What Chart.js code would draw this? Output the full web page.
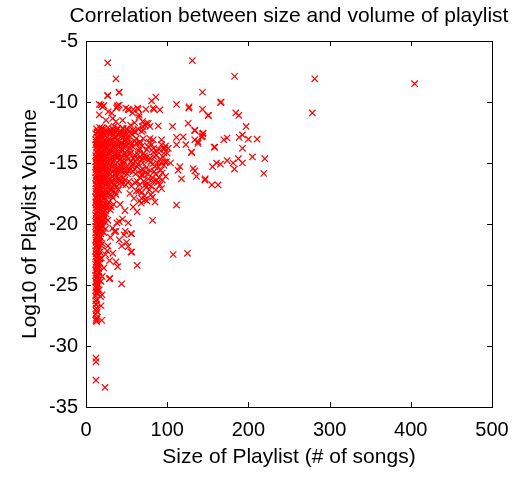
<!DOCTYPE html>
<html>
<head>
<meta charset="utf-8">
<script src="https://cdn.jsdelivr.net/npm/chart.js@4/dist/chart.umd.min.js"></script>
<style>
html,body{margin:0;padding:0;background:#fff;}
#wrap{width:515px;height:477px;}
</style>
</head>
<body>
<div id="wrap"><canvas id="c" width="515" height="477"></canvas></div>
<script>
const chartTitle = 'Correlation between size and volume of playlist';
const xAxisTitle = 'Size of Playlist (# of songs)';
const yAxisTitle = 'Log10 of Playlist Volume';
const xTicks = [0, 100, 200, 300, 400, 500];
const yTicks = [-35, -30, -25, -20, -15, -10, -5];

// isolated playlists (size, log10 volume)
const outlierPlaylists = [
[26.7,-6.8],[131,-6.6],[36.9,-8.1],[183,-7.9],[281.7,-8.1],[404.7,-8.5],[40.6,-9.2],[26.7,-9.45],[143.5,-9.2],[86,-9.6],
[80.8,-9.9],[165.6,-10.05],[166.5,-10.0],[16.4,-10.2],[22,-10.3],[38.5,-10.4],[37.5,-10.5],[27.4,-10.8],[31.6,-10.9],[52,-10.6],
[58.2,-10.6],[64.3,-10.6],[73.8,-10.6],[83.6,-10.6],[91,-10.65],[82.8,-10.5],[111.5,-10.2],[126.7,-10.5],[127,-10.4],[143.5,-10.6],
[150.4,-11.1],[150.9,-11.1],[184.5,-10.9],[188.2,-11.1],[278.8,-10.9],[65.2,-11.25],[72.6,-11.9],[76.7,-11.75],[74.6,-11.75],[89,-11.95],
[106.6,-12.0],[125.8,-11.75],[134,-12.3],[134,-12.35],[144.3,-12.55],[142.3,-12.85],[143.5,-12.8],[143.5,-12.6],[138,-13.25],[138,-13.4],
[134,-13.1],[111.5,-12.9],[119.7,-12.85],[123,-13.5],[111.5,-13.5],[130,-14.1],[130,-14.15],[158.7,-13.7],[157.8,-13.7],[101.3,-13.8],
[197.2,-12.0],[169.7,-13.1],[173.8,-12.95],[188.6,-12.9],[192.7,-12.7],[200,-13.05],[210.7,-13.05],[192.7,-13.8],[205,-14.5],[220.2,-14.65],
[219,-15.85],[155.8,-15.3],[160.7,-15.0],[165.6,-15.1],[173.8,-14.8],[181.2,-15.0],[187.7,-14.65],[192.7,-15.0],[182.8,-15.5],[146.8,-16.3],
[155,-16.8],[162.7,-16.8],[113.5,-15.6],[115.6,-15.3],[132,-15.45],[134,-15.65],[117.6,-16.3],[136,-16.1],[146.4,-16.4],[111.5,-18.45],
[82,-19.7],[78.7,-13],[68.5,-12.4],[66.4,-13.25],[93,-13.1],[95,-13.8],[78.7,-12],[70.5,-12.3],[70.5,-13],[66.4,-13.4],
[76.6,-13.65],[82.8,-14.1],[86.9,-14.35],[82.8,-13.1],[93,-13.5],[97.2,-13.8],[95,-14.5],[97,-14.9],[91,-16.8],[93,-17.1],
[72.6,-18],[68.5,-17.9],[56.2,-20.8],[56.2,-22.3],[107.4,-22.5],[125,-22.4],[63.1,-23.4],[41,-19.8],[48.3,-20.6],[55.4,-20.8],
[32.8,-20.35],[36.9,-20.6],[41,-21.3],[50,-21.5],[52,-21.85],[55.4,-22.3],[36.9,-23.1],[39,-23.5],[28.7,-24.5],[43.9,-24.9],
[18.5,-24.7],[16.4,-25.4],[19.7,-25.8],[29.5,-24.45],[13.2,-25.7],[18,-25.95],[15.1,-25.4],[12.3,-26.55],[18.5,-26.7],[12.3,-27.9],
[19.3,-27.9],[13.1,-27.7],[13.1,-28],[12.3,-31.0],[12.3,-31.3],[12.3,-32.8],[23.4,-33.4]
];

// scattered playlists around the main cluster
const fringePlaylists = [
[26.7,-9.5],[41,-9.2],[18.5,-10.25],[20.5,-10.4],[39,-10.3],[41,-10.25],[49,-10.5],[63.5,-10.5],[65.5,-11.05],[53,-10.65],
[57.4,-10.9],[24.6,-11.5],[32.8,-11.35],[36.9,-11.6],[45.1,-11.5],[16.4,-11.05],[59.4,-12.4],[69.7,-11.6],[69.7,-12.0],[45.1,-12.15],
[51.3,-12.3],[34.8,-12.0],[41,-12.55],[49.2,-12.7],[30.8,-12.4],
[64,-15.1],[67,-16.2],[70,-15.5],[73,-16.8],[76,-15.9],[79,-14.6],[84,-15.7],[87,-16.4],[62,-17.3],[66,-18.1],
[58,-18.6],[54,-17.5],[48,-18.9],[45,-19.6],[42,-18.4],[38,-19.9],[35,-20.6],[30,-21.1],[27,-21.8],[24,-22.5],
[22,-23.6],[20,-24.3],[60,-16.6],[56,-16.9],[75,-13.9],[81,-13.5],[88,-15.0],[92,-15.6],[100,-14.2],[104,-15.0],
[98,-16.1],[80,-17.6],[85,-18.2],[63,-19.0],[52,-19.9],[47,-20.9],[44,-21.8],[33,-22.4],[29,-23.0],[26,-22.2],
[67,-14.5],[70,-15.0],[72,-14.6],[74,-15.4],[77,-14.8],[79,-15.6],[82,-15.1],[84,-14.5],[86,-15.9],[89,-15.3],
[91,-14.7],[94,-15.8],[96,-15.2],[99,-14.9],[68,-16.0],[71,-16.5],[74,-17.0],[77,-16.3],[80,-16.9],[83,-16.5],
[86,-17.2],[69,-17.4],[72,-17.7],[66,-16.8],[90,-16.2],[75,-18.1],[68,-18.3],
[62,-13.0],[65,-14.0],[67,-15.6],[69,-13.6],[71,-14.2],[73,-15.8],[75,-14.5],[76,-16.7],[78,-13.3],[80,-14.9],
[82,-16.2],[83,-13.8],[85,-15.3],[87,-14.0],[88,-16.6],[90,-13.9],[92,-15.0],[94,-16.4],[96,-14.2],[98,-13.6],
[61,-15.9],[63,-16.5],[65,-17.3],[70,-16.0],[78,-17.2],[82,-17.8],[59,-17.9],[57,-15.1],[64,-12.2],[60,-11.7],[55,-11.9]
];

// dense core of small playlists
const corePlaylists = [
[12,-12.6],[13,-12.2],[14,-12.9],[15,-12.4],[16,-12.7],[17,-12.1],[18,-12.8],[19,-12.3],[20,-12.6],[21,-12.9],
[22,-12.2],[23,-12.7],[25,-12.4],[26,-12.9],[27,-12.1],[29,-12.6],[30,-12.3],[32,-12.8],[33,-12.2],[35,-12.6],
[37,-12.9],[38,-12.3],[40,-12.7],[42,-12.4],[44,-12.8],[46,-12.2],[48,-12.6],[51,-12.9],[54,-12.4],[57,-12.7],[61,-12.5],
[12,-13.5],[12,-13.1],[13,-13.8],[14,-13.3],[15,-13.6],[16,-13.1],[17,-13.9],[18,-13.4],[19,-13.7],[20,-13.2],
[21,-13.5],[22,-13.9],[23,-13.1],[24,-13.6],[25,-13.3],[26,-13.8],[28,-13.2],[29,-13.6],[30,-13.9],[31,-13.4],
[33,-13.1],[34,-13.7],[36,-13.3],[37,-13.9],[39,-13.5],[41,-13.2],[42,-13.8],[44,-13.4],[46,-13.7],[48,-13.2],
[50,-13.6],[52,-13.9],[55,-13.3],[58,-13.7],[62,-13.4],[66,-13.8],
[12,-14.4],[12,-14.9],[13,-14.1],[14,-14.6],[15,-14.3],[16,-14.8],[17,-14.2],[18,-14.5],[19,-14.9],[20,-14.1],
[21,-14.6],[22,-14.3],[23,-14.8],[24,-14.2],[26,-14.5],[27,-14.9],[28,-14.3],[30,-14.7],[31,-14.1],[33,-14.5],
[34,-14.9],[36,-14.2],[38,-14.6],[39,-14.3],[41,-14.8],[43,-14.1],[45,-14.5],[47,-14.9],[49,-14.3],[52,-14.7],
[55,-14.2],[58,-14.6],[61,-14.9],[64,-14.3],[68,-14.7],[72,-14.4],
[12,-15.3],[12,-15.8],[13,-15.1],[14,-15.6],[15,-15.2],[16,-15.9],[17,-15.4],[18,-15.7],[19,-15.1],[20,-15.5],
[21,-15.9],[22,-15.2],[23,-15.6],[25,-15.3],[26,-15.8],[27,-15.1],[29,-15.5],[30,-15.9],[32,-15.3],[33,-15.7],
[35,-15.2],[37,-15.6],[39,-15.9],[41,-15.4],[43,-15.7],[46,-15.2],[48,-15.6],[51,-15.9],[54,-15.4],[58,-15.7],[63,-15.3],
[12,-16.2],[12,-16.7],[13,-16.4],[14,-16.9],[15,-16.1],[16,-16.6],[17,-16.3],[18,-16.8],[19,-16.5],[20,-16.1],
[21,-16.7],[22,-16.4],[24,-16.9],[25,-16.2],[26,-16.6],[28,-16.3],[29,-16.8],[31,-16.5],[33,-16.1],[34,-16.7],
[36,-16.4],[38,-16.9],[40,-16.3],[43,-16.6],[46,-16.2],[49,-16.8],[53,-16.5],
[12,-17.3],[12,-17.8],[13,-17.1],[14,-17.6],[15,-17.2],[16,-17.9],[17,-17.4],[18,-17.7],[19,-17.1],[20,-17.5],
[21,-17.9],[22,-17.3],[24,-17.6],[25,-17.2],[27,-17.8],[28,-17.4],[30,-17.1],[32,-17.7],[34,-17.3],[37,-17.6],[40,-17.2],
[12,-18.2],[12,-18.7],[13,-18.4],[14,-18.9],[15,-18.1],[16,-18.6],[17,-18.3],[18,-18.8],[19,-18.4],[20,-18.1],
[21,-18.7],[23,-18.3],[24,-18.9],[26,-18.5],[28,-18.2],[31,-18.6],[34,-18.4],
[12,-19.3],[12,-19.8],[13,-19.1],[14,-19.6],[15,-19.3],[16,-19.9],[17,-19.4],[18,-19.1],[19,-19.7],[20,-19.3],
[21,-19.8],[23,-19.5],[25,-19.2],[27,-19.7],
[12,-20.2],[12,-20.7],[13,-20.4],[14,-20.9],[15,-20.1],[16,-20.6],[17,-20.3],[18,-20.8],[19,-20.4],[21,-20.2],[22,-20.7],[24,-20.4],
[12,-21.3],[12,-21.8],[13,-21.1],[14,-21.6],[15,-21.3],[16,-21.9],[17,-21.4],[18,-21.1],[20,-21.6],
[12,-22.2],[12,-22.7],[13,-22.4],[14,-22.9],[15,-22.1],[16,-22.6],[17,-22.3],[19,-22.8],
[12,-23.3],[12,-23.8],[13,-23.1],[14,-23.6],[15,-23.4],[16,-23.9],[17,-23.2],
[12,-24.2],[12,-24.7],[13,-24.4],[14,-24.9],[15,-24.3],[16,-24.6],
[12,-25.2],[13,-25.6],[14,-25.1],[12,-25.9],
[12,-26.3],[13,-26.9],[12,-27.4],[14,-27.2],[13,-27.8]
];

// more playlists inside the dense core
const corePlaylists2 = [
[13.5,-12.45],[15.5,-12.85],[17.5,-12.55],[19.5,-12.15],[21.5,-12.45],[24,-12.75],[28,-12.45],[31,-12.55],[34,-12.35],[36,-12.85],
[39,-12.15],[43,-12.6],[47,-12.85],[50,-12.2],[53,-12.75],[58,-12.3],
[12.5,-13.3],[13.5,-13.55],[14.5,-13.1],[15.5,-13.85],[17.5,-13.15],[19.5,-13.45],[22.5,-13.35],[24.5,-13.85],[27,-13.5],[30.5,-13.15],
[32,-13.75],[35,-13.55],[38,-13.15],[40,-13.65],[43,-13.35],[45,-13.9],[47,-13.45],[51,-13.25],[54,-13.75],[57,-13.4],[60,-13.2],
[12.5,-14.6],[13.5,-14.8],[14.5,-14.35],[16.5,-14.1],[17.5,-14.75],[18.5,-14.25],[20.5,-14.85],[22.5,-14.6],[25,-14.35],[27.5,-14.7],
[29,-14.15],[32,-14.6],[35,-14.75],[37,-14.45],[40,-14.2],[42,-14.65],[44,-14.85],[46,-14.3],[50,-14.5],[53,-14.25],[56,-14.85],[60,-14.35],[63,-14.65],
[12.5,-15.55],[13.5,-15.35],[14.5,-15.85],[16.5,-15.25],[17.5,-15.65],[19.5,-15.45],[21.5,-15.3],[24,-15.75],[26,-15.45],[28,-15.8],
[31,-15.15],[34,-15.45],[36,-15.85],[38,-15.35],[40,-15.65],[42,-15.2],[44,-15.55],[47,-15.85],[50,-15.3],[53,-15.65],[56,-15.25],[60,-15.5],
[12.5,-16.45],[13.5,-16.75],[14.5,-16.25],[16.5,-16.45],[17.5,-16.85],[19.5,-16.25],[21.5,-16.5],[23,-16.15],[25,-16.75],[27,-16.45],
[30,-16.25],[32,-16.6],[35,-16.85],[37,-16.15],[39,-16.55],[42,-16.35],[45,-16.75],[48,-16.4],
[12.5,-17.5],[13.5,-17.85],[14.5,-17.35],[16.5,-17.55],[17.5,-17.15],[19.5,-17.8],[21,-17.45],[23,-17.85],[26,-17.35],[29,-17.65],
[31,-17.25],[33,-17.85],[36,-17.4],
[12.5,-18.45],[13.5,-18.15],[14.5,-18.65],[16.5,-18.35],[17.5,-18.85],[19.5,-18.6],[22,-18.45],[25,-18.75],[27,-18.35],[30,-18.85],
[12.5,-19.55],[13.5,-19.85],[14.5,-19.35],[16.5,-19.55],[17.5,-19.15],[18.5,-19.85],[20.5,-19.55],[22,-19.25],[24,-19.85],
[12.5,-20.45],[13.5,-20.75],[14.5,-20.25],[15.5,-20.85],[16.5,-20.45],[18.5,-20.2],[20,-20.6],
[12.5,-21.5],[13.5,-21.85],[14.5,-21.3],[15.5,-21.65],[16.5,-21.15],[18.5,-21.75],
[12.5,-22.45],[13.5,-22.75],[14.5,-22.2],[15.5,-22.55],[17,-22.85],
[12.5,-23.55],[13.5,-23.8],[14.5,-23.25],[15.5,-23.65],
[12.5,-24.45],[13.5,-24.75],[14.5,-24.15],
[12.5,-25.45],[13.5,-25.3],[12.5,-26.6],[13.5,-26.2],[12.5,-27.1]
];

const allPlaylists = [].concat(corePlaylists, corePlaylists2, fringePlaylists, outlierPlaylists)
  .map(p => ({x: p[0], y: p[1]}));

const FONT = "'Liberation Sans', Arial, Helvetica, sans-serif";

// frame with inward ticks on all four sides, plus the chart title centred over the plot
const framePlugin = {
  id: 'frame',
  afterDraw(chart) {
    const {ctx, chartArea: a, scales: {x, y}} = chart;
    const L = 5;
    ctx.save();
    ctx.strokeStyle = '#000';
    ctx.lineWidth = 1;
    ctx.strokeRect(Math.round(a.left) + 0.5, Math.round(a.top) + 0.5,
                   Math.round(a.right - a.left), Math.round(a.bottom - a.top));
    ctx.beginPath();
    xTicks.forEach(v => {
      const px = Math.round(x.getPixelForValue(v)) + 0.5;
      ctx.moveTo(px, a.bottom); ctx.lineTo(px, a.bottom - L);
      ctx.moveTo(px, a.top); ctx.lineTo(px, a.top + L);
    });
    yTicks.forEach(v => {
      const py = Math.round(y.getPixelForValue(v)) + 0.5;
      ctx.moveTo(a.left, py); ctx.lineTo(a.left + L, py);
      ctx.moveTo(a.right, py); ctx.lineTo(a.right - L, py);
    });
    ctx.stroke();
    ctx.fillStyle = '#000';
    ctx.font = '21px ' + FONT;
    ctx.textAlign = 'center';
    ctx.textBaseline = 'middle';
    ctx.fillText(chartTitle, (a.left + a.right) / 2, 16);
    ctx.restore();
  }
};

Chart.defaults.color = '#000';
Chart.defaults.font.family = FONT;

new Chart(document.getElementById('c'), {
  type: 'scatter',
  data: {
    datasets: [{
      data: allPlaylists,
      pointStyle: 'crossRot',
      pointRadius: 4.5,
      pointBorderWidth: 1.2,
      borderColor: 'rgb(255,0,0)',
      backgroundColor: 'rgb(255,0,0)'
    }]
  },
  options: {
    responsive: false,
    animation: false,
    events: [],
    layout: { padding: { top: 41, right: 23, bottom: 0, left: 0 } },
    plugins: {
      legend: { display: false },
      tooltip: { enabled: false },
      title: { display: false, text: chartTitle }
    },
    scales: {
      x: {
        type: 'linear',
        min: 0, max: 500,
        afterBuildTicks(s) { s.ticks = xTicks.map(v => ({value: v})); },
        afterFit(s) { s.height = 70; s.paddingLeft = 0; s.paddingRight = 0; },
        grid: { display: false, drawTicks: false },
        border: { display: false },
        ticks: { padding: 11, color: '#000', font: { size: 20, family: FONT }, autoSkip: false, maxRotation: 0 },
        title: { display: true, text: xAxisTitle, color: '#000',
                 font: { size: 21, family: FONT, lineHeight: 1.2 }, padding: { top: 0, bottom: 7.5 } }
      },
      y: {
        type: 'linear',
        min: -35, max: -5,
        afterBuildTicks(s) { s.ticks = yTicks.map(v => ({value: v})); },
        afterFit(s) { s.width = 86; s.paddingTop = 0; s.paddingBottom = 0; },
        grid: { display: false, drawTicks: false },
        border: { display: false },
        ticks: { padding: 8, color: '#000', font: { size: 20, family: FONT }, autoSkip: false },
        title: { display: true, text: yAxisTitle, color: '#000',
                 font: { size: 21, family: FONT, lineHeight: 1.2 }, padding: { top: 17.5, bottom: 0 } }
      }
    }
  },
  plugins: [framePlugin]
});
</script>
</body>
</html>
